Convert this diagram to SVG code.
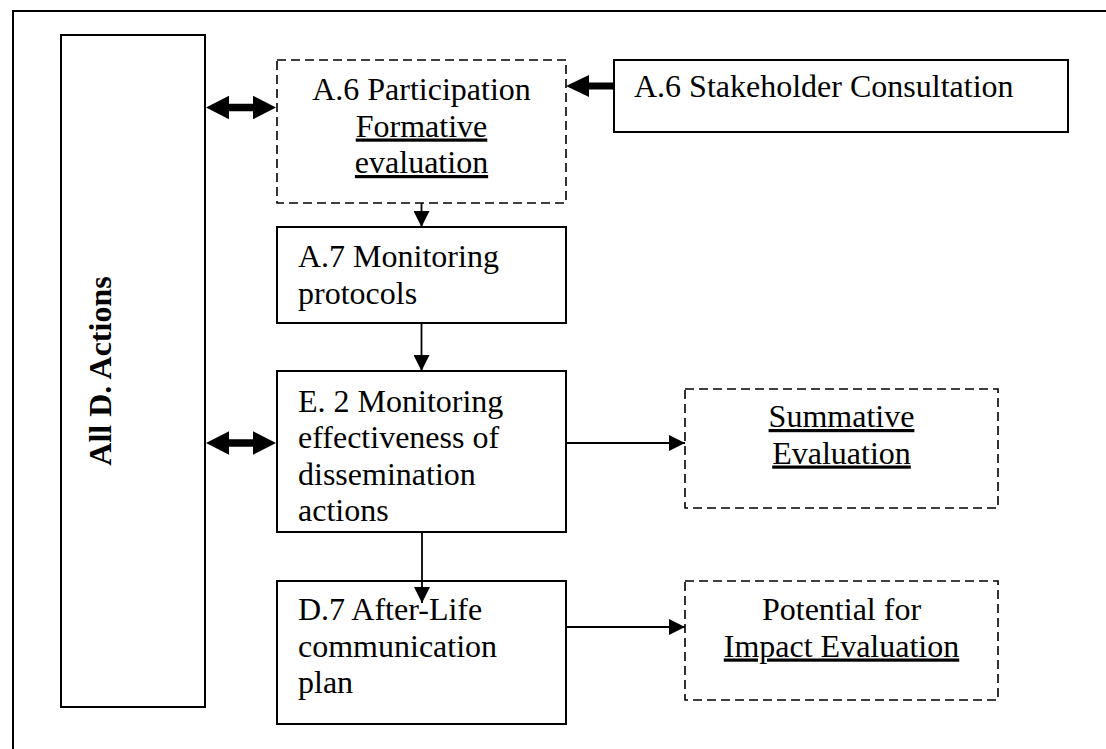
<svg xmlns="http://www.w3.org/2000/svg" width="1106" height="749" viewBox="0 0 1106 749">
<defs>
<style>
.box{fill:#fff;stroke:#000;stroke-width:2}
.dash{fill:#fff;stroke:#000;stroke-width:1.6;stroke-dasharray:9 5}
.t{font-family:"Liberation Serif","Times New Roman",serif;font-size:32px;fill:#000}
.c{text-anchor:middle}
.u{text-decoration:underline}
.b{font-weight:bold}
.ln{stroke:#000;stroke-width:1.8;fill:none;marker-end:url(#ah)}
.fat{fill:#000;stroke:none}
</style>
<marker id="ah" markerUnits="userSpaceOnUse" markerWidth="16" markerHeight="16" viewBox="0 0 16 16" refX="16" refY="8" orient="auto">
<path d="M0,0 L16,8 L0,16 Z" fill="#000"/>
</marker>
</defs>
<rect width="1106" height="749" fill="#fff"/>
<rect id="frame" x="13" y="11" width="1200" height="800" fill="none" stroke="#000" stroke-width="2"/>

<g id="all-d-actions">
<rect class="box" x="61" y="35" width="144" height="672"/>
<text class="t b c" transform="translate(111,371) rotate(-90)">All D. Actions</text>
</g>

<g id="a6-participation">
<rect class="dash" x="277" y="60" width="289" height="143"/>
<text class="t c" x="421.5" y="100">A.6 Participation</text>
<text class="t c u" x="421.5" y="136.5">Formative</text>
<text class="t c u" x="421.5" y="173">evaluation</text>
</g>

<g id="a6-stakeholder">
<rect class="box" x="614" y="60" width="454" height="72"/>
<text class="t" x="634" y="97">A.6 Stakeholder Consultation</text>
</g>

<g id="a7-monitoring">
<rect class="box" x="277" y="227" width="289" height="96"/>
<text class="t" x="298" y="267">A.7 Monitoring</text>
<text class="t" x="298" y="303.5">protocols</text>
</g>

<g id="e2-monitoring">
<rect class="box" x="277" y="371" width="289" height="161"/>
<text class="t" x="298" y="411.5">E. 2 Monitoring</text>
<text class="t" x="298" y="448">effectiveness of</text>
<text class="t" x="298" y="484.5">dissemination</text>
<text class="t" x="298" y="521">actions</text>
</g>

<g id="summative">
<rect class="dash" x="685" y="389" width="313" height="119"/>
<text class="t c u" x="841.5" y="427">Summative</text>
<text class="t c u" x="841.5" y="463.5">Evaluation</text>
</g>

<g id="d7-afterlife">
<rect class="box" x="277" y="581" width="289" height="143"/>
<text class="t" x="298" y="620">D.7 After-Life</text>
<text class="t" x="298" y="656.5">communication</text>
<text class="t" x="298" y="693">plan</text>
</g>

<g id="impact">
<rect class="dash" x="685" y="581" width="313" height="119"/>
<text class="t c" x="841.5" y="620">Potential for</text>
<text class="t c u" x="841.5" y="656.5">Impact Evaluation</text>
</g>

<g id="connectors">
<path class="fat" d="M206,107.5 L229,95.8 L229,103.7 L253,103.7 L253,95.8 L276,107.5 L253,119.2 L253,111.3 L229,111.3 L229,119.2 Z"/>
<path class="fat" d="M206,443 L229,431.3 L229,439.2 L253,439.2 L253,431.3 L276,443 L253,454.7 L253,446.8 L229,446.8 L229,454.7 Z"/>
<path class="fat" d="M566,86 L589,75 L589,82.5 L614,82.5 L614,89.5 L589,89.5 L589,97 Z"/>
<line class="ln" x1="421.5" y1="203" x2="421.5" y2="227"/>
<line class="ln" x1="421.5" y1="323" x2="421.5" y2="371"/>
<line class="ln" x1="422" y1="532" x2="422" y2="603"/>
<line class="ln" x1="566" y1="443" x2="685" y2="443"/>
<line class="ln" x1="566" y1="627" x2="685" y2="627"/>
</g>
</svg>
